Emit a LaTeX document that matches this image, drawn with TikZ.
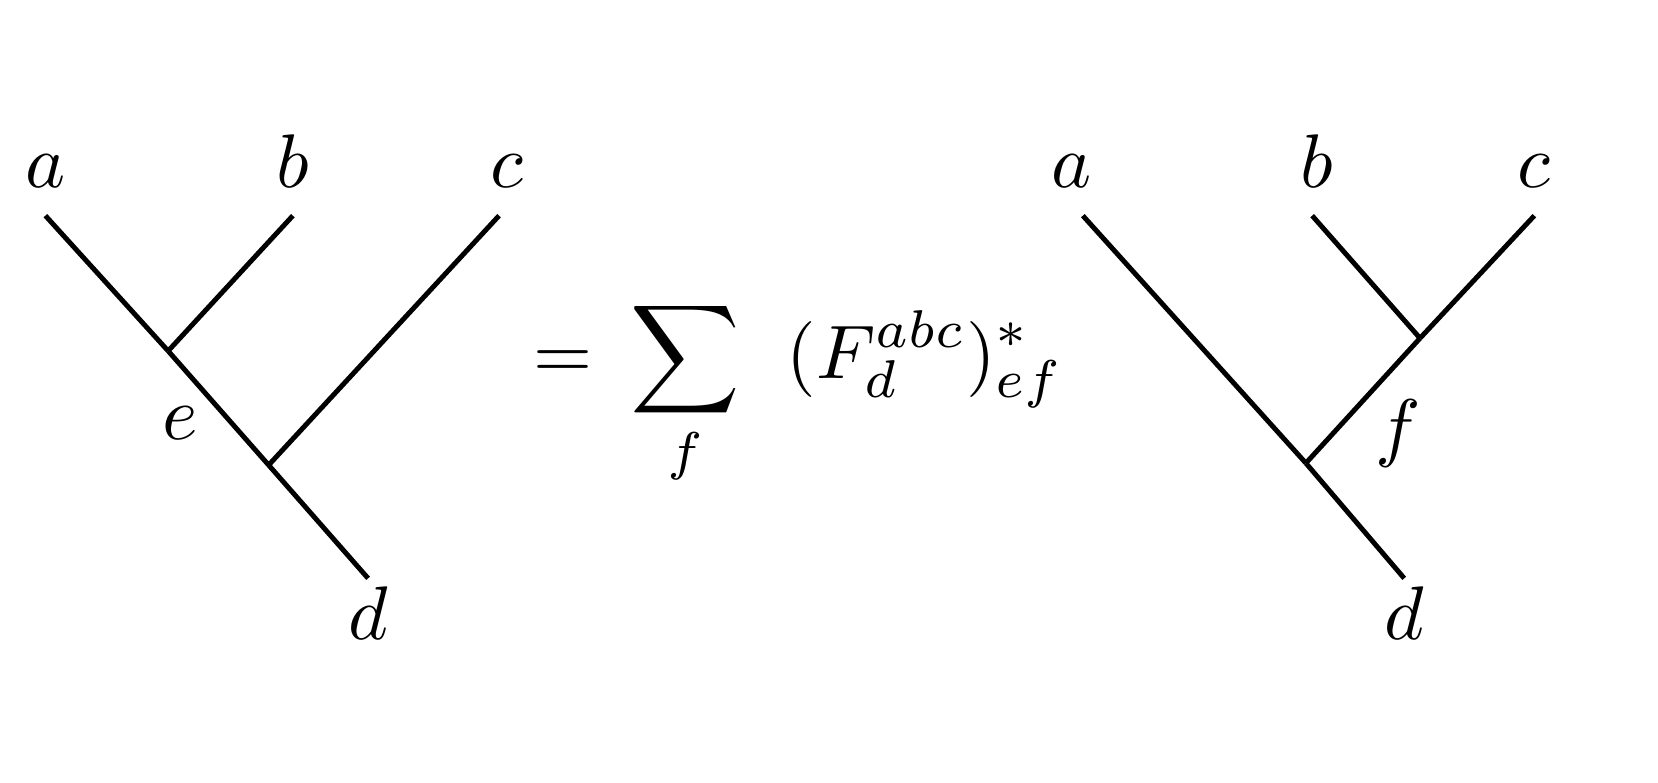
\documentclass[tikz,border=0pt]{standalone}
\usepackage{tikz-feynman}
\usetikzlibrary{positioning}

\begin{document}
\begin{tikzpicture}[line width=0.65pt]

    \useasboundingbox (0,0) rectangle (7.671,3.620);
    \begin{feynman}
        \vertex (a1) at (0.210,2.622);
        \vertex (b1) at (1.355,2.622);
        \vertex (c1) at (2.309,2.622);
        \vertex (e1) at (0.778,1.996);
        \vertex (g1) at (1.243,1.468);
        \vertex (d1) at (1.703,0.944);
        \node (la1) [above=0pt of a1] {\(a\)};
        \node (lb1) [above=0pt of b1] {\(b\)};
        \node (lc1) [above=0pt of c1, xshift=0.035cm] {\(c\)};
        \node (ld1) [below=-2.5pt of d1] {\(d\)};
        \node (le1) at (0.832,1.663) {\(e\)};
        \diagram* {
            (a1) -- [plain] (e1) -- [plain] (g1) -- [plain] (d1),
            (b1) -- [plain] (e1),
            (c1) -- [plain] (g1),
        };

        \vertex (a2) at (5.010,2.622);
        \vertex (b2) at (6.071,2.622);
        \vertex (c2) at (7.099,2.622);
        \vertex (f2) at (6.570,2.055);
        \vertex (g2) at (6.042,1.477);
        \vertex (d2) at (6.497,0.944);
        \node (la2) [above=0pt of a2, xshift=-0.05cm] {\(a\)};
        \node (lb2) [above=0pt of b2, xshift=0.02cm] {\(b\)};
        \node (lc2) [above=0pt of c2] {\(c\)};
        \node (ld2) [below=-2.5pt of d2] {\(d\)};
        \node (lf2) at (6.468,1.614) {\(f\)};
        \diagram* {
            (a2) -- [plain] (g2) -- [plain] (d2),
            (b2) -- [plain] (f2) -- [plain] (g2),
            (c2) -- [plain] (f2),
        };
    \end{feynman}
    \node (move) [anchor=base west, inner sep=0pt] at (2.456,1.869) {\(\displaystyle = \mkern4mu \sum_f \mkern11mu (F^{abc}_d)^*_{ef}\)};
\end{tikzpicture}
\end{document}
